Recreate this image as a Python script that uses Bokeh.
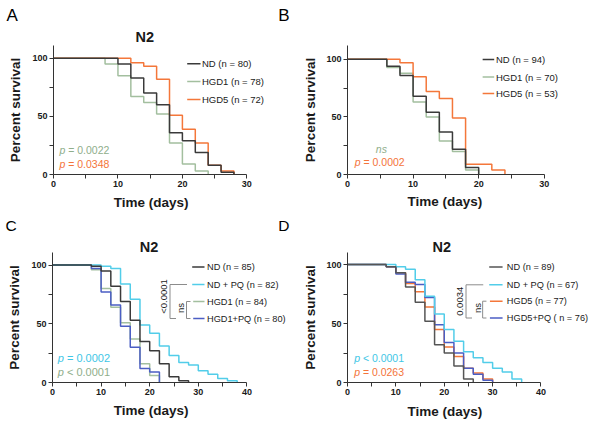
import math
from bokeh.plotting import figure
from bokeh.layouts import column, row
from bokeh.models import FixedTicker, Range1d, Title
from bokeh.core.properties import value
from bokeh.embed import file_html
from bokeh.resources import INLINE

# ---------------- data (days, percent survival) ----------------
# Panel A
a_nd_t = [0, 10, 12, 14, 16, 18, 20, 22, 24, 26, 28]
a_nd_s = [100, 95, 83, 70, 60, 36, 29, 19, 8, 2, 0]
a_hgd1_t = [0, 8, 10, 12, 14, 16, 18, 20, 22, 24]
a_hgd1_s = [100, 95, 85, 67, 62, 52, 27, 9, 3, 0]
a_hgd5_t = [0, 12, 14, 16, 18, 20, 22, 24, 26, 28]
a_hgd5_s = [100, 96, 93, 82, 51, 39, 27, 8, 3, 0]
a_labels = ["ND (n = 80)", "HGD1 (n = 78)", "HGD5 (n = 72)"]
a_pvals = ["= 0.0022", "= 0.0348"]

# Panel B
b_nd_t = [0, 6, 8, 10, 12, 14, 16, 18, 20]
b_nd_s = [100, 94, 86, 68, 54, 37, 22, 6, 0]
b_hgd1_t = [0, 6, 8, 10, 12, 14, 16, 18, 20]
b_hgd1_s = [100, 93, 88, 63, 50, 29, 20, 4, 0]
b_hgd5_t = [0, 8, 10, 12, 14, 16, 18, 22, 24]
b_hgd5_s = [100, 97, 85, 72, 66, 49, 9, 4, 0]
b_labels = ["ND (n = 94)", "HGD1 (n = 70)", "HGD5 (n = 53)"]
b_pvals = ["ns", "= 0.0002"]

# Panel C
c_nd_t = [0, 8, 10, 12, 14, 16, 18, 20, 22, 24, 26, 28]
c_nd_s = [100, 99, 95, 82, 69, 53, 35, 27, 16, 5, 1.5, 0]
c_ndpq_t = [0, 10, 12, 14, 16, 18, 20, 22, 24, 26, 28, 30, 32, 34, 36, 38]
c_ndpq_s = [100, 99, 97, 84, 71, 49, 42, 31, 23, 17, 15, 10, 7, 3.5, 1.5, 0]
c_hgd1_t = [0, 8, 10, 12, 14, 16, 18, 20, 22]
c_hgd1_s = [100, 96, 80, 64, 51, 37, 16, 6, 0]
c_hgd1pq_t = [0, 8, 10, 12, 14, 16, 18, 20, 22]
c_hgd1pq_s = [100, 97, 77, 66, 48, 30, 12, 9, 0]
c_labels = ["ND (n = 85)", "ND + PQ (n = 82)", "HGD1 (n = 84)", "HGD1+PQ (n = 80)"]
c_pvals = ["= 0.0002", "< 0.0001"]
c_brackets = ["<0.0001", "ns"]

# Panel D
d_nd_t = [0, 8, 10, 12, 14, 16, 18, 20, 22, 24, 26]
d_nd_s = [100, 98, 93, 81, 68, 52, 32, 25, 14, 3, 0]
d_ndpq_t = [0, 10, 12, 14, 16, 18, 20, 22, 24, 26, 28, 30, 32, 34, 36]
d_ndpq_s = [100, 98, 96, 87, 73, 58, 45, 35, 26, 21, 17, 12, 9, 3, 0]
d_hgd5_t = [0, 8, 10, 12, 14, 16, 18, 20, 22, 24, 26, 28, 30]
d_hgd5_s = [100, 98, 93, 84, 77, 64, 45, 30, 22, 12, 8, 3, 0]
d_hgd5pq_t = [0, 8, 10, 12, 14, 16, 18, 20, 22, 24, 26, 28, 30]
d_hgd5pq_s = [100, 98, 92, 85, 83, 72, 49, 34, 25, 12, 7, 2, 0]
d_labels = ["ND (n = 89)", "ND + PQ (n = 67)", "HGD5 (n = 77)", "HGD5+PQ ( n = 76)"]
d_pvals = ["< 0.0001", "= 0.0263"]
d_brackets = ["0.0034", "ns"]

panel_letters = ["A", "B", "C", "D"]
panel_title = "N2"
x_title = "Time (days)"
y_title = "Percent survival"

# ---------------- styling ----------------
FONT = "Liberation Sans"
C_ND = "#3a3a3a"
C_ND_D = "#555555"
C_HGD1 = "#a3bf9f"
C_HGD5 = "#f4773a"
C_PQ = "#52cde9"
C_BLUE = "#4b5ec4"
C_BR = "#8c8c8c"
P_GREEN = "#8fae8b"
P_ORANGE = "#f4743a"
P_CYAN = "#3ec6e6"
TXT = "#1a1a1a"


class Panel:
    def __init__(self, ox, oy, w, h, L, R, T, B, ppx, ppy, xmax, ystand,
                 title_left=None, title_standoff=0, xlab_left=0, xlab_standoff=10):
        self.fl = ox + L
        self.fb = oy + h - B
        self.ppx, self.ppy = ppx, ppy
        fw = w - L - R
        fh = h - T - B
        p = figure(width=w, height=h,
                   x_range=Range1d(0, fw / ppx), y_range=Range1d(0, fh / ppy),
                   min_border_left=L, min_border_right=R,
                   min_border_top=T, min_border_bottom=B,
                   output_backend="svg", toolbar_location=None,
                   outline_line_color=None, title=None,
                   background_fill_color="white", border_fill_color="white")
        p.xgrid.grid_line_color = None
        p.ygrid.grid_line_color = None
        p.xaxis.bounds = (0, xmax)
        p.xaxis.ticker = FixedTicker(ticks=list(range(0, xmax + 1, 10)),
                                     minor_ticks=list(range(5, xmax, 10)))
        p.yaxis.ticker = FixedTicker(ticks=[0, 50, 100], minor_ticks=[25, 75])
        for ax in (p.xaxis[0], p.yaxis[0]):
            ax.axis_line_color = "#333333"
            ax.axis_line_width = 1
            ax.major_tick_line_color = "#333333"
            ax.minor_tick_line_color = "#333333"
            ax.major_tick_out = 4
            ax.major_tick_in = 0
            ax.minor_tick_out = 4
            ax.minor_tick_in = 0
            ax.major_label_text_font = FONT
            ax.major_label_text_font_style = "bold"
            ax.major_label_text_font_size = "9px"
            ax.major_label_text_color = TXT
            ax.major_label_standoff = 2
            ax.axis_label_text_font = FONT
            ax.axis_label_text_font_style = "bold"
            ax.axis_label_text_font_size = "13.5px"
            ax.axis_label_text_color = TXT
        p.yaxis.axis_label = y_title
        p.yaxis.axis_label_standoff = ystand
        # x-axis title, centred on the 0..xmax axis line as in the reference
        p.add_layout(Title(text=x_title, align="left", offset=xlab_left - self.fl,
                           vertical_align="top", standoff=xlab_standoff, text_font=FONT,
                           text_font_size="13.5px", text_font_style="bold",
                           text_color=TXT), "below")
        if title_left is not None:
            p.add_layout(Title(text=panel_title, align="left",
                               offset=title_left - self.fl,
                               standoff=title_standoff, text_font=FONT,
                               text_font_size="14.5px", text_font_style="bold",
                               text_color=TXT), "above")
        self.p = p

    def X(self, px):
        return (px - self.fl) / self.ppx

    def Y(self, py):
        return (self.fb - py) / self.ppy

    def step(self, t, s, color, lw=1.5):
        self.p.step(x=t, y=s, mode="after", line_color=color, line_width=lw)

    def text(self, px, py, s, size, color, align="left", style="normal",
             angle=0.0, xoff=0):
        self.p.text(x=[self.X(px)], y=[self.Y(py)], text=[s],
                    text_font=value(FONT), text_font_size=f"{size}px",
                    text_color=color, text_align=align, text_baseline="middle",
                    text_font_style=style, angle=angle, x_offset=xoff)

    def seg(self, x0, y0, x1, y1, color, lw=1.5):
        self.p.segment(x0=[self.X(x0)], y0=[self.Y(y0)], x1=[self.X(x1)],
                       y1=[self.Y(y1)], line_color=color, line_width=lw)

    def poly(self, pts, color, lw=1):
        self.p.line(x=[self.X(a) for a, b in pts], y=[self.Y(b) for a, b in pts],
                    line_color=color, line_width=lw)

    def pval(self, px, py, rest, color, size=10.5):
        self.text(px, py, "p", size, color, style="italic")
        self.text(px, py, rest, size, color, xoff=size * 0.83)


def strip(h, items, size):
    s = figure(width=600, height=h, x_range=Range1d(0, 600), y_range=Range1d(h, 0),
               min_border=0, min_border_left=0, min_border_right=0,
               min_border_top=0, min_border_bottom=0,
               x_axis_type=None, y_axis_type=None, title=None,
               output_backend="svg", toolbar_location=None,
               outline_line_color=None, background_fill_color="white",
               border_fill_color="white")
    for x, y, t in items:
        s.text(x=[x], y=[y], text=[t], text_font=value(FONT),
               text_font_size=f"{size}px", text_color="black",
               text_align="center", text_baseline="middle")
    return s


# ---------------- strips with panel letters ----------------
S1 = strip(24, [(11.7, 14.5, panel_letters[0]), (283.3, 15, panel_letters[1])], 17)
S2 = strip(17, [(10.5, 8.5, panel_letters[2]), (283.3, 8.5, panel_letters[3])], 15.5)

# ---------------- Panel A ----------------
A = Panel(0, 24, 300, 192, 53, 10, 21, 42, 6.445, 1.163, 30, 6,
          title_left=135, title_standoff=2, xlab_left=113.3, xlab_standoff=10)
A.step(a_hgd1_t, a_hgd1_s, C_HGD1)
A.step(a_hgd5_t, a_hgd5_s, C_HGD5)
A.step(a_nd_t, a_nd_s, C_ND)
for lab, col, ry in zip(a_labels, [C_ND, C_HGD1, C_HGD5], [63.3, 81, 99]):
    A.seg(186.7, ry, 200, ry, col)
    A.text(201.5, ry, lab, 9.5, TXT)
A.pval(59, 149.7, a_pvals[0], P_GREEN)
A.pval(59, 163.3, a_pvals[1], P_ORANGE)

# ---------------- Panel B ----------------
B = Panel(300, 24, 300, 192, 46, 10, 19, 40, 6.587, 1.187, 30, 5,
          xlab_left=406, xlab_standoff=8)
B.step(b_hgd1_t, b_hgd1_s, C_HGD1)
B.step(b_hgd5_t, b_hgd5_s, C_HGD5)
B.step(b_nd_t, b_nd_s, C_ND)
for lab, col, ry in zip(b_labels, [C_ND, C_HGD1, C_HGD5], [57.5, 75.5, 92.5]):
    B.seg(481.7, ry, 493.3, ry, col)
    B.text(495, ry, lab, 9.5, TXT)
B.text(380, 150, b_pvals[0], 10.5, P_GREEN, align="center", style="italic")
B.pval(353.3, 163.3, b_pvals[1], P_ORANGE)

# ---------------- Panel C ----------------
C = Panel(0, 233, 300, 197, 52, 5, 19, 48, 4.86, 1.174, 40, 6,
          title_left=139.3, title_standoff=-5.5, xlab_left=113.3, xlab_standoff=11)
C.step(c_hgd1_t, c_hgd1_s, C_HGD1)
C.step(c_hgd1pq_t, c_hgd1pq_s, C_BLUE)
C.step(c_ndpq_t, c_ndpq_s, C_PQ)
C.step(c_nd_t, c_nd_s, C_ND)
rows_c = [266.5, 284, 301, 318]
for lab, col, ry, lx in zip(c_labels, [C_ND, C_PQ, C_HGD1, C_BLUE], rows_c,
                            [191.7, 191.7, 192.7, 192.7]):
    C.seg(lx, ry, 204, ry, col)
    C.text(206.5, ry, lab, 9.2, TXT)
C.poly([(186.5, rows_c[1]), (169.5, rows_c[1]), (169.5, rows_c[3]), (175.5, rows_c[3])], C_BR)
C.poly([(190, rows_c[2]), (186, rows_c[2]), (186, rows_c[3]), (190, rows_c[3])], C_BR)
C.text(163.3, 296, c_brackets[0], 9.5, TXT, align="center", angle=math.pi / 2)
C.text(180, 307.5, c_brackets[1], 9.5, TXT, align="center", angle=math.pi / 2)
C.pval(57.3, 357, c_pvals[0], P_CYAN, 11)
C.pval(57.3, 371, c_pvals[1], P_GREEN, 11)

# ---------------- Panel D ----------------
D = Panel(300, 233, 300, 197, 46, 5, 19, 48, 4.857, 1.18, 40, 5,
          title_left=431, title_standoff=-5.5, xlab_left=406, xlab_standoff=13)
D.step(d_hgd5_t, d_hgd5_s, C_HGD5)
D.step(d_hgd5pq_t, d_hgd5pq_s, C_BLUE)
D.step(d_ndpq_t, d_ndpq_s, C_PQ)
D.step(d_nd_t, d_nd_s, C_ND_D)
rows_d = [266.5, 284.3, 300.7, 317.5]
for lab, col, ry, lx in zip(d_labels, [C_ND_D, C_PQ, C_HGD5, C_BLUE], rows_d,
                            [488.3, 488.3, 489, 489]):
    D.seg(lx, ry, 501.7, ry, col)
    D.text(506, ry, lab, 9.2, TXT)
D.poly([(482.3, rows_d[1]), (465, rows_d[1]), (465, rows_d[3]), (471, rows_d[3])], C_BR)
D.poly([(485.5, rows_d[2]), (481.7, rows_d[2]), (481.7, rows_d[3]), (485.5, rows_d[3])], C_BR)
D.text(459, 300.8, d_brackets[0], 9.5, TXT, align="center", angle=math.pi / 2)
D.text(476.7, 307.5, d_brackets[1], 9.5, TXT, align="center", angle=math.pi / 2)
D.pval(352.7, 357.7, d_pvals[0], P_CYAN)
D.pval(352.7, 371, d_pvals[1], P_ORANGE)

layout = column(S1, row(A.p, B.p), S2, row(C.p, D.p))
open("out.html", "w").write(file_html(layout, INLINE))
